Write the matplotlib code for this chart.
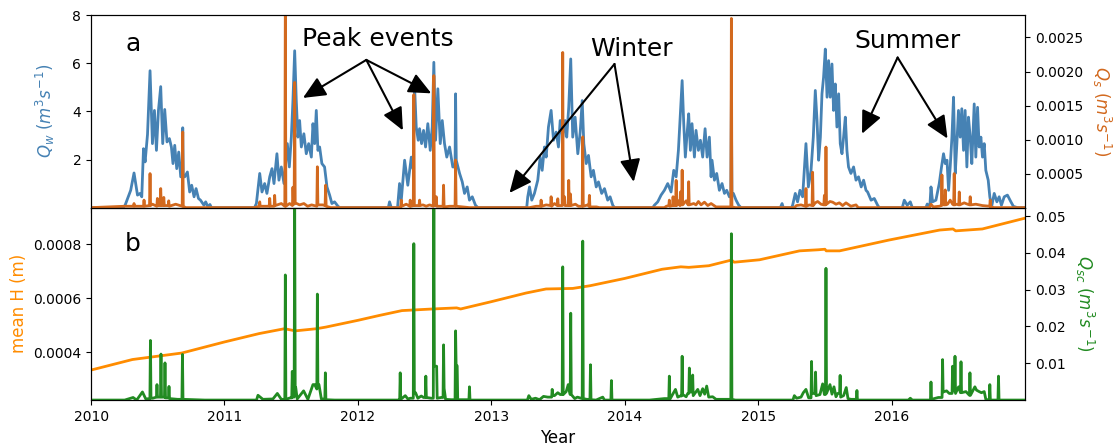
import numpy as np
import matplotlib
matplotlib.use('Agg')
import matplotlib.pyplot as plt
from matplotlib.ticker import FormatStrFormatter


# water discharge Q_w (m3/s), one list per melt season: (decimal year, value)
qw_2010 = [(2010.240, 0), (2010.255, 0.10), (2010.297, 0.72), (2010.322, 1.44), (2010.348, 0.52),
           (2010.367, 0.59), (2010.380, 0.45), (2010.393, 2.45), (2010.405, 1.90), (2010.423, 3.04),
           (2010.442, 5.69), (2010.460, 2.66), (2010.475, 4.04), (2010.490, 2.38), (2010.505, 4.04),
           (2010.522, 5.03), (2010.537, 2.66), (2010.552, 4.08), (2010.569, 2.73), (2010.587, 2.87),
           (2010.602, 2.52), (2010.614, 1.83), (2010.627, 2.59), (2010.642, 1.62), (2010.657, 2.31),
           (2010.672, 1.28), (2010.683, 1.28), (2010.687, 3.32), (2010.691, 1.28), (2010.702, 1.28),
           (2010.722, 1.48), (2010.739, 0.65), (2010.754, 0.93), (2010.772, 0.45), (2010.787, 0.79),
           (2010.805, 0.38), (2010.820, 0.31), (2010.846, 0.10), (2010.859, 0.24), (2010.876, 0.03),
           (2010.891, 0.13), (2010.902, 0)]
qw_2011 = [(2011.225, 0), (2011.239, 0.17), (2011.264, 1.42), (2011.281, 0.65), (2011.301, 1.00),
           (2011.318, 0.59), (2011.339, 1.28), (2011.356, 1.62), (2011.371, 1.00), (2011.393, 2.24),
           (2011.408, 1.14), (2011.426, 1.69), (2011.446, 1.00), (2011.471, 2.66), (2011.486, 1.69),
           (2011.501, 2.93), (2011.513, 4.45), (2011.526, 6.52), (2011.538, 4.45), (2011.550, 2.93),
           (2011.563, 3.62), (2011.576, 2.52), (2011.595, 3.07), (2011.613, 2.24), (2011.631, 2.66),
           (2011.651, 2.10), (2011.663, 3.49), (2011.676, 2.66), (2011.688, 4.04), (2011.700, 2.38),
           (2011.713, 2.52), (2011.730, 1.83), (2011.750, 1.69), (2011.768, 0.86), (2011.788, 0.52),
           (2011.805, 0.17), (2011.825, 0.24), (2011.850, 0.06), (2011.863, 0)]
qw_2012 = [(2012.228, 0), (2012.237, 0.24), (2012.250, 0), (2012.297, 0), (2012.312, 1.00),
           (2012.325, 0.31), (2012.350, 1.97), (2012.374, 0.93), (2012.400, 2.10), (2012.414, 1.60),
           (2012.425, 5.00), (2012.437, 3.35), (2012.452, 2.80), (2012.462, 3.28), (2012.477, 2.66),
           (2012.492, 3.21), (2012.507, 2.52), (2012.524, 3.49), (2012.542, 2.38), (2012.557, 3.35),
           (2012.569, 6.04), (2012.582, 2.80), (2012.599, 4.94), (2012.617, 2.66), (2012.632, 3.62),
           (2012.649, 2.66), (2012.666, 2.10), (2012.687, 2.52), (2012.711, 1.69), (2012.728, 1.69),
           (2012.732, 4.73), (2012.737, 1.97), (2012.762, 1.42), (2012.782, 1.07), (2012.799, 0.59),
           (2012.819, 0.86), (2012.836, 0.31), (2012.857, 0.45), (2012.881, 0.10), (2012.899, 0)]
qw_2013 = [(2013.265, 0), (2013.273, 0.45), (2013.286, 0.86), (2013.303, 0.31), (2013.323, 0.59),
           (2013.348, 1.14), (2013.366, 2.10), (2013.381, 1.55), (2013.398, 2.52), (2013.411, 2.10),
           (2013.428, 3.35), (2013.448, 4.04), (2013.466, 2.80), (2013.486, 3.14), (2013.503, 2.52),
           (2013.516, 3.62), (2013.535, 2.93), (2013.553, 3.62), (2013.565, 2.93), (2013.580, 4.17),
           (2013.595, 6.18), (2013.610, 2.93), (2013.628, 3.76), (2013.648, 2.24), (2013.666, 3.14),
           (2013.681, 4.45), (2013.693, 2.66), (2013.711, 1.83), (2013.728, 2.17), (2013.748, 1.28),
           (2013.765, 1.55), (2013.786, 0.86), (2013.803, 1.07), (2013.827, 0.59), (2013.848, 0.79),
           (2013.872, 0.31), (2013.890, 0.45), (2013.910, 0.10), (2013.923, 0)]
qw_2014 = [(2014.210, 0), (2014.222, 0.10), (2014.247, 0.24), (2014.272, 0.52), (2014.297, 0.72),
           (2014.322, 1.00), (2014.347, 0.65), (2014.367, 1.55), (2014.385, 1.28), (2014.402, 2.38),
           (2014.417, 3.90), (2014.430, 5.28), (2014.442, 3.49), (2014.454, 2.10), (2014.467, 3.07),
           (2014.479, 3.90), (2014.492, 2.38), (2014.504, 3.49), (2014.522, 2.10), (2014.534, 3.21),
           (2014.552, 2.38), (2014.567, 2.80), (2014.584, 2.10), (2014.602, 3.28), (2014.617, 2.10),
           (2014.634, 2.93), (2014.647, 1.28), (2014.654, 1.97), (2014.672, 1.14), (2014.689, 1.42),
           (2014.709, 0.72), (2014.729, 1.00), (2014.747, 0.59), (2014.764, 0.72), (2014.784, 0.45),
           (2014.795, 0.45), (2014.799, 4.45), (2014.803, 0.59), (2014.814, 0.59), (2014.834, 0.31),
           (2014.854, 0.10), (2014.871, 0)]
qw_2015 = [(2015.166, 0), (2015.179, 0.17), (2015.188, 0), (2015.250, 0), (2015.258, 0.10),
           (2015.278, 0.59), (2015.295, 0.24), (2015.313, 0.72), (2015.333, 0.45), (2015.358, 2.66),
           (2015.376, 0.86), (2015.396, 1.55), (2015.413, 2.93), (2015.428, 4.87), (2015.441, 3.62),
           (2015.453, 1.97), (2015.466, 2.93), (2015.478, 4.73), (2015.490, 5.42), (2015.503, 6.59),
           (2015.516, 4.59), (2015.528, 6.11), (2015.540, 4.59), (2015.553, 5.97), (2015.565, 4.04),
           (2015.578, 5.14), (2015.590, 3.35), (2015.603, 4.73), (2015.615, 2.66), (2015.628, 2.24),
           (2015.640, 2.93), (2015.653, 3.76), (2015.665, 2.38), (2015.677, 1.69), (2015.695, 1.42),
           (2015.715, 1.69), (2015.733, 1.14), (2015.752, 1.28), (2015.772, 0.86), (2015.790, 1.14),
           (2015.808, 0.72), (2015.820, 0.65), (2015.846, 0.31), (2015.870, 0.38), (2015.895, 0.10),
           (2015.907, 0), (2016.080, 0), (2016.095, 0.31), (2016.117, 0.10), (2016.140, 0.24),
           (2016.155, 0)]
qw_2016 = [(2016.257, 0), (2016.267, 0.15), (2016.278, 0), (2016.286, 0), (2016.295, 0.86),
           (2016.307, 0.24), (2016.332, 0.31), (2016.357, 1.00), (2016.374, 1.69), (2016.389, 2.24),
           (2016.402, 1.83), (2016.415, 1.97), (2016.427, 0.72), (2016.439, 1.69), (2016.452, 2.93),
           (2016.464, 4.59), (2016.477, 1.42), (2016.489, 2.66), (2016.501, 4.04), (2016.514, 2.93),
           (2016.526, 4.11), (2016.539, 2.38), (2016.551, 4.04), (2016.564, 1.69), (2016.576, 3.76),
           (2016.589, 2.93), (2016.601, 1.83), (2016.619, 4.31), (2016.631, 2.10), (2016.644, 4.17),
           (2016.656, 2.52), (2016.669, 2.93), (2016.681, 2.10), (2016.694, 2.66), (2016.706, 1.55),
           (2016.724, 1.14), (2016.736, 0.45), (2016.749, 0.03), (2016.769, 0.59), (2016.789, 0.24),
           (2016.806, 0.45), (2016.823, 0.10), (2016.844, 0.45), (2016.868, 0.52), (2016.894, 0.24),
           (2016.913, 0.05), (2016.943, 0)]

# sediment discharge Q_s (m3/s)
qs_2010 = [(2010.252, 0.00002), (2010.318, 0.00002), (2010.322, 0.00006), (2010.326, 0.00002),
           (2010.393, 0.00002), (2010.397, 0.00011), (2010.401, 0.00002), (2010.438, 0.00003),
           (2010.442, 0.00050), (2010.446, 0.00003), (2010.460, 0.00005), (2010.493, 0.00002),
           (2010.497, 0.000135), (2010.501, 0.00003), (2010.518, 0.00003), (2010.522, 0.00028),
           (2010.526, 0.00003), (2010.541, 0.00003), (2010.545, 0.00015), (2010.549, 0.00003),
           (2010.578, 0.00003), (2010.582, 0.00010), (2010.586, 0.00002), (2010.634, 0.00005),
           (2010.683, 0.00002), (2010.687, 0.00111), (2010.691, 0.00002), (2010.709, 0)]
qs_2011 = [(2011.226, 0), (2011.260, 0.00002), (2011.264, 0.000085), (2011.268, 0.00002),
           (2011.335, 0.00002), (2011.339, 0.000135), (2011.343, 0.00002), (2011.372, 0.00002),
           (2011.376, 0.00018), (2011.380, 0.00003), (2011.426, 0.00006), (2011.452, 0.00002),
           (2011.456, 0.0031), (2011.460, 0.00002), (2011.488, 0.00006), (2011.509, 0.00003),
           (2011.513, 0.00030), (2011.518, 0.00005), (2011.522, 0.00005), (2011.526, 0.00184),
           (2011.530, 0.00007), (2011.563, 0.00004), (2011.595, 0.00006), (2011.623, 0.00002),
           (2011.653, 0.00004), (2011.692, 0.00002), (2011.696, 0.00060), (2011.700, 0.00004),
           (2011.735, 0.00004), (2011.754, 0.00003), (2011.758, 0.00033), (2011.762, 0.00002),
           (2011.795, 0)]
qs_2012 = [(2012.312, 0), (2012.321, 0.00002), (2012.325, 0.00011), (2012.329, 0.00002),
           (2012.362, 0.00005), (2012.388, 0.00002), (2012.392, 0.00011), (2012.396, 0.00002),
           (2012.415, 0.00003), (2012.419, 0.00166), (2012.423, 0.00003), (2012.458, 0.00003),
           (2012.462, 0.00011), (2012.466, 0.00003), (2012.487, 0.00004), (2012.512, 0.00002),
           (2012.537, 0.00004), (2012.565, 0.00002), (2012.569, 0.00194), (2012.573, 0.00003),
           (2012.583, 0.00003), (2012.587, 0.00016), (2012.591, 0.00002), (2012.612, 0.00002),
           (2012.638, 0.00002), (2012.642, 0.00033), (2012.646, 0.00001), (2012.687, 0.00002),
           (2012.728, 0.00002), (2012.732, 0.00070), (2012.736, 0.00002), (2012.786, 0.00001),
           (2012.836, 0)]
qs_2013 = [(2013.286, 0), (2013.336, 0.00002), (2013.369, 0.00002), (2013.373, 0.00011),
           (2013.377, 0.00002), (2013.411, 0.00004), (2013.444, 0.00003), (2013.448, 0.00016),
           (2013.452, 0.00002), (2013.473, 0.00006), (2013.494, 0.00003), (2013.498, 0.00013),
           (2013.502, 0.00003), (2013.531, 0.00003), (2013.535, 0.00228), (2013.539, 0.00004),
           (2013.548, 0.00016), (2013.552, 0.00003), (2013.576, 0.00003), (2013.580, 0.00040),
           (2013.584, 0.00003), (2013.589, 0.00003), (2013.593, 0.00020), (2013.597, 0.00003),
           (2013.630, 0.00005), (2013.653, 0.00002), (2013.681, 0.00002), (2013.685, 0.00104),
           (2013.689, 0.00002), (2013.723, 0.00004), (2013.731, 0.00002), (2013.735, 0.00018),
           (2013.739, 0.00001), (2013.788, 0.00001), (2013.810, 0)]
qs_2014 = [(2014.297, 0), (2014.312, 0.00002), (2014.330, 0.00003), (2014.334, 0.00011),
           (2014.338, 0.00002), (2014.358, 0.00003), (2014.362, 0.00016), (2014.366, 0.00003),
           (2014.381, 0.00003), (2014.385, 0.00040), (2014.389, 0.00003), (2014.402, 0.00010),
           (2014.413, 0.00003), (2014.417, 0.00023), (2014.421, 0.00004), (2014.426, 0.00004),
           (2014.430, 0.00055), (2014.434, 0.00004), (2014.460, 0.00010), (2014.475, 0.00004),
           (2014.479, 0.00038), (2014.483, 0.00004), (2014.517, 0.00006), (2014.534, 0.00004),
           (2014.552, 0.00009), (2014.572, 0.00004), (2014.597, 0.00008), (2014.622, 0.00003),
           (2014.647, 0.00006), (2014.684, 0.00001), (2014.734, 0.00001), (2014.795, 0.00001),
           (2014.799, 0.00278), (2014.803, 0.00001), (2014.829, 0)]
qs_2015 = [(2015.271, 0), (2015.286, 0.00003), (2015.321, 0.00004), (2015.354, 0.00002),
           (2015.358, 0.00028), (2015.362, 0.00002), (2015.383, 0.00004), (2015.404, 0.00003),
           (2015.408, 0.00052), (2015.412, 0.00003), (2015.428, 0.00007), (2015.446, 0.00009),
           (2015.471, 0.00005), (2015.492, 0.00004), (2015.496, 0.00018), (2015.500, 0.00004),
           (2015.504, 0.00004), (2015.508, 0.00089), (2015.512, 0.00005), (2015.538, 0.00009),
           (2015.558, 0.00008), (2015.583, 0.00005), (2015.608, 0.00007), (2015.633, 0.00003),
           (2015.658, 0.00007), (2015.695, 0.00002), (2015.733, 0.00004), (2015.750, 0)]
qs_2016 = [(2016.283, 0), (2016.295, 0.00005), (2016.312, 0.00001), (2016.357, 0.00002),
           (2016.373, 0.00003), (2016.377, 0.00048), (2016.381, 0.00004), (2016.385, 0.00004),
           (2016.389, 0.00016), (2016.393, 0.00004), (2016.398, 0.00004), (2016.402, 0.00026),
           (2016.406, 0.00004), (2016.419, 0.00005), (2016.439, 0.00011), (2016.457, 0.00005),
           (2016.465, 0.00004), (2016.469, 0.00050), (2016.473, 0.00004), (2016.487, 0.00005),
           (2016.503, 0.00004), (2016.507, 0.00023), (2016.511, 0.00004), (2016.544, 0.00007),
           (2016.569, 0.00005), (2016.585, 0.00004), (2016.589, 0.00016), (2016.593, 0.00004),
           (2016.631, 0.00005), (2016.681, 0.00003), (2016.735, 0.00002), (2016.739, 0.00011),
           (2016.743, 0.00001), (2016.769, 0)]

# channel sediment discharge Q_sc (m3/s)
qsc_2010 = [(2010.252, 0), (2010.315, 0.0007), (2010.342, 0), (2010.385, 0.0022), (2010.410, 0.0003),
            (2010.441, 0.0004), (2010.445, 0.0162), (2010.449, 0.0005), (2010.462, 0.0005),
            (2010.490, 0.0008), (2010.494, 0.0042), (2010.498, 0.0008), (2010.520, 0.0008),
            (2010.524, 0.0125), (2010.528, 0.0008), (2010.550, 0.0008), (2010.554, 0.0101),
            (2010.558, 0.0006), (2010.580, 0.0006), (2010.584, 0.0037), (2010.588, 0.0004),
            (2010.649, 0.0002), (2010.681, 0.0002), (2010.685, 0.0124), (2010.689, 0.0002),
            (2010.777, 0.0001), (2010.852, 0)]
qsc_2011 = [(2011.240, 0), (2011.251, 0.0013), (2011.288, 0.0002), (2011.363, 0.0003),
            (2011.396, 0.0018), (2011.426, 0.0002), (2011.452, 0.0002), (2011.456, 0.0340),
            (2011.460, 0.0002), (2011.493, 0.0006), (2011.504, 0.0006), (2011.508, 0.0078),
            (2011.512, 0.0008), (2011.522, 0.0008), (2011.526, 0.0550), (2011.530, 0.0034),
            (2011.534, 0.0034), (2011.545, 0.0003), (2011.593, 0.0025), (2011.625, 0.0002),
            (2011.663, 0.0042), (2011.676, 0.0042), (2011.692, 0.0030), (2011.696, 0.0288),
            (2011.700, 0.0042), (2011.708, 0.0042), (2011.726, 0.0003), (2011.752, 0.0003),
            (2011.756, 0.0074), (2011.760, 0.0001), (2011.825, 0)]
qsc_2012 = [(2012.305, 0), (2012.313, 0.0002), (2012.317, 0.0074), (2012.321, 0.0002),
            (2012.355, 0.0012), (2012.374, 0.0003), (2012.394, 0.0005), (2012.415, 0.0005),
            (2012.419, 0.0425), (2012.423, 0.0020), (2012.432, 0.0020), (2012.449, 0.0005),
            (2012.475, 0.0011), (2012.492, 0.0007), (2012.505, 0.0007), (2012.509, 0.0065),
            (2012.513, 0.0007), (2012.550, 0.0005), (2012.565, 0.0005), (2012.569, 0.0550),
            (2012.573, 0.0092), (2012.590, 0.0092), (2012.594, 0.0005), (2012.624, 0.0007),
            (2012.638, 0.0007), (2012.642, 0.0150), (2012.646, 0.0032), (2012.657, 0.0002),
            (2012.699, 0.0001), (2012.728, 0.0001), (2012.732, 0.0188), (2012.736, 0.0093),
            (2012.744, 0.0093), (2012.748, 0.0001), (2012.786, 0.0001), (2012.832, 0.0001),
            (2012.836, 0.0036), (2012.840, 0)]
qsc_2013 = [(2013.270, 0), (2013.281, 0.0012), (2013.299, 0.0002), (2013.331, 0.0005),
            (2013.361, 0.0001), (2013.391, 0.0010), (2013.423, 0.0008), (2013.452, 0.0008),
            (2013.456, 0.0029), (2013.460, 0.0012), (2013.473, 0.0012), (2013.498, 0.0020),
            (2013.516, 0.0015), (2013.531, 0.0015), (2013.535, 0.0362), (2013.539, 0.0015),
            (2013.561, 0.0023), (2013.576, 0.0042), (2013.591, 0.0015), (2013.595, 0.0236),
            (2013.599, 0.0015), (2013.625, 0.0004), (2013.645, 0.0008), (2013.681, 0.0004),
            (2013.685, 0.0432), (2013.689, 0.0004), (2013.715, 0.0002), (2013.739, 0.0002),
            (2013.743, 0.0096), (2013.747, 0.0001), (2013.785, 0), (2013.835, 0.0008),
            (2013.848, 0), (2013.896, 0), (2013.900, 0.0053), (2013.904, 0)]
qsc_2014 = [(2014.186, 0), (2014.297, 0.0004), (2014.330, 0.0004), (2014.334, 0.0065),
            (2014.338, 0.0002), (2014.380, 0.0029), (2014.397, 0.0008), (2014.415, 0.0011),
            (2014.426, 0.0011), (2014.430, 0.0119), (2014.434, 0.0015), (2014.460, 0.0009),
            (2014.472, 0.0018), (2014.480, 0.0018), (2014.484, 0.0087), (2014.488, 0.0022),
            (2014.505, 0.0022), (2014.509, 0.0068), (2014.513, 0.0012), (2014.547, 0.0029),
            (2014.564, 0.0012), (2014.584, 0.0031), (2014.599, 0.0016), (2014.614, 0.0038),
            (2014.629, 0.0008), (2014.659, 0.0009), (2014.684, 0.0002), (2014.795, 0.0002),
            (2014.799, 0.0452), (2014.803, 0.0002), (2014.829, 0)]
qsc_2015 = [(2015.260, 0), (2015.271, 0.0012), (2015.288, 0.0005), (2015.321, 0.0008),
            (2015.338, 0.0020), (2015.358, 0.0029), (2015.378, 0.0006), (2015.396, 0.0006),
            (2015.400, 0.0105), (2015.404, 0.0018), (2015.426, 0.0018), (2015.430, 0.0076),
            (2015.434, 0.0012), (2015.463, 0.0015), (2015.483, 0.0044), (2015.496, 0.0015),
            (2015.504, 0.0015), (2015.508, 0.0358), (2015.512, 0.0018), (2015.538, 0.0042),
            (2015.553, 0.0016), (2015.568, 0.0036), (2015.583, 0.0009), (2015.596, 0.0018),
            (2015.610, 0.0018), (2015.614, 0.0067), (2015.618, 0.0008), (2015.640, 0.0012),
            (2015.660, 0.0034), (2015.673, 0.0004), (2015.695, 0.0002), (2015.736, 0.0002),
            (2015.740, 0.0026), (2015.744, 0)]
qsc_2016 = [(2016.125, 0), (2016.140, 0.0005), (2016.155, 0), (2016.291, 0), (2016.295, 0.0049),
            (2016.299, 0.0002), (2016.350, 0.0007), (2016.378, 0.0007), (2016.382, 0.0110),
            (2016.386, 0.0022), (2016.412, 0.0025), (2016.432, 0.0018), (2016.453, 0.0018),
            (2016.457, 0.0092), (2016.461, 0.0025), (2016.471, 0.0025), (2016.475, 0.0119),
            (2016.479, 0.0018), (2016.502, 0.0036), (2016.516, 0.0020), (2016.520, 0.0104),
            (2016.524, 0.0020), (2016.557, 0.0023), (2016.583, 0.0013), (2016.587, 0.0074),
            (2016.591, 0.0013), (2016.624, 0.0036), (2016.636, 0.0027), (2016.656, 0.0023),
            (2016.673, 0.0020), (2016.694, 0.0023), (2016.706, 0.0002), (2016.732, 0),
            (2016.736, 0.0042), (2016.740, 0), (2016.797, 0), (2016.801, 0.0065), (2016.805, 0)]

# mean bed elevation change H (m)
mean_h = [(2010.00, 0.000334), (2010.31, 0.000373), (2010.68, 0.000397), (2011.00, 0.000438),
          (2011.26, 0.000469), (2011.45, 0.000487), (2011.53, 0.000479), (2011.69, 0.000487),
          (2011.76, 0.000493), (2012.00, 0.000518), (2012.16, 0.000536), (2012.33, 0.000554),
          (2012.56, 0.000560), (2012.74, 0.000564), (2012.77, 0.000560), (2013.00, 0.000587),
          (2013.26, 0.000619), (2013.41, 0.000634), (2013.61, 0.000636), (2013.74, 0.000646),
          (2014.00, 0.000673), (2014.28, 0.000707), (2014.42, 0.000716), (2014.48, 0.000714),
          (2014.63, 0.000720), (2014.80, 0.000741), (2014.82, 0.000733), (2015.01, 0.000742),
          (2015.31, 0.000775), (2015.45, 0.000779), (2015.50, 0.000781), (2015.51, 0.000775),
          (2015.61, 0.000775), (2015.98, 0.000815), (2016.36, 0.000852), (2016.46, 0.000856),
          (2016.48, 0.000849), (2016.68, 0.000856), (2017.00, 0.000896)]

years = [2010, 2011, 2012, 2013, 2014, 2015, 2016]


def series(*seasons):
    pts = [(2010.0, 0.0)] + [p for s in seasons for p in s] + [(2017.0, 0.0)]
    t, v = zip(*pts)
    return np.array(t), np.array(v)


def main():
    plt.rcParams['font.family'] = 'DejaVu Sans'
    fig, (ax1, ax2) = plt.subplots(2, 1, sharex=True, figsize=(11.16, 4.46), dpi=100)
    fig.subplots_adjust(left=0.0816, right=0.9185, top=0.966, bottom=0.103, hspace=0)

    c_w, c_s, c_h, c_sc = 'steelblue', 'chocolate', 'darkorange', 'forestgreen'

    # panel a: water and sediment discharge
    t, v = series(qw_2010, qw_2011, qw_2012, qw_2013, qw_2014, qw_2015, qw_2016)
    ax1.plot(t, v, color=c_w, lw=2)
    ax1.set_ylim(0, 8)
    ax1.set_yticks([2, 4, 6, 8])
    ax1.set_ylabel(r'$Q_w\ (m^3s^{-1})$', color=c_w, fontsize=12, labelpad=11)

    ax1b = ax1.twinx()
    t, v = series(qs_2010, qs_2011, qs_2012, qs_2013, qs_2014, qs_2015, qs_2016)
    ax1b.plot(t, v, color=c_s, lw=2)
    ax1b.set_ylim(0, 0.002828)
    ax1b.set_yticks([0.0005, 0.0010, 0.0015, 0.0020, 0.0025])
    ax1b.yaxis.set_major_formatter(FormatStrFormatter('%.4f'))
    ax1b.set_ylabel(r'$Q_s\ (m^3s^{-1})$', color=c_s, fontsize=12, rotation=270, labelpad=22)

    ax1b.text(0.0446, 0.85, 'a', transform=ax1.transAxes, fontsize=18, ha='center', va='center')

    arrow = dict(arrowstyle='-|>,head_length=0.55,head_width=0.25', color='black', lw=1.5,
                 mutation_scale=25, shrinkA=0, shrinkB=0)
    notes = [('Peak events', (2012.148, 7.02), (2012.063, 6.14),
              [(2011.588, 4.56), (2012.337, 3.21), (2012.550, 4.75)]),
             ('Winter', (2014.05, 6.60), (2013.923, 5.97),
              [(2013.136, 0.61), (2014.067, 1.07)]),
             ('Summer', (2016.118, 6.94), (2016.045, 6.24),
              [(2015.778, 3.07), (2016.419, 2.87)])]
    for label, pos, src, targets in notes:
        ax1b.text(pos[0], pos[1], label, transform=ax1.transData, fontsize=18,
                  ha='center', va='center')
        for tgt in targets:
            ax1b.annotate('', xy=tgt, xytext=src, xycoords=ax1.transData,
                          textcoords=ax1.transData, arrowprops=arrow)

    # panel b: mean bed elevation and channel sediment discharge
    t, v = zip(*mean_h)
    ax2.plot(t, v, color=c_h, lw=2)
    ax2.set_ylim(0.000223, 0.000935)
    ax2.set_yticks([0.0004, 0.0006, 0.0008])
    ax2.yaxis.set_major_formatter(FormatStrFormatter('%.4f'))
    ax2.set_ylabel('mean H (m)', color=c_h, fontsize=12)

    ax2b = ax2.twinx()
    t, v = series(qsc_2010, qsc_2011, qsc_2012, qsc_2013, qsc_2014, qsc_2015, qsc_2016)
    ax2b.plot(t, v, color=c_sc, lw=2)
    ax2b.set_ylim(0, 0.0523)
    ax2b.set_yticks([0.01, 0.02, 0.03, 0.04, 0.05])
    ax2b.yaxis.set_major_formatter(FormatStrFormatter('%.2f'))
    ax2b.set_ylabel(r'$Q_{sc}\ (m^3s^{-1})$', color=c_sc, fontsize=12, rotation=270, labelpad=22)

    ax2b.text(0.0446, 0.81, 'b', transform=ax2.transAxes, fontsize=18, ha='center', va='center')

    ax2.set_xlim(2010, 2017)
    ax2.set_xticks(years)
    ax2.set_xticklabels([str(y) for y in years])
    ax2.set_xlabel('Year', fontsize=12)

    fig.savefig('out.png', dpi=100)


if __name__ == '__main__':
    main()
